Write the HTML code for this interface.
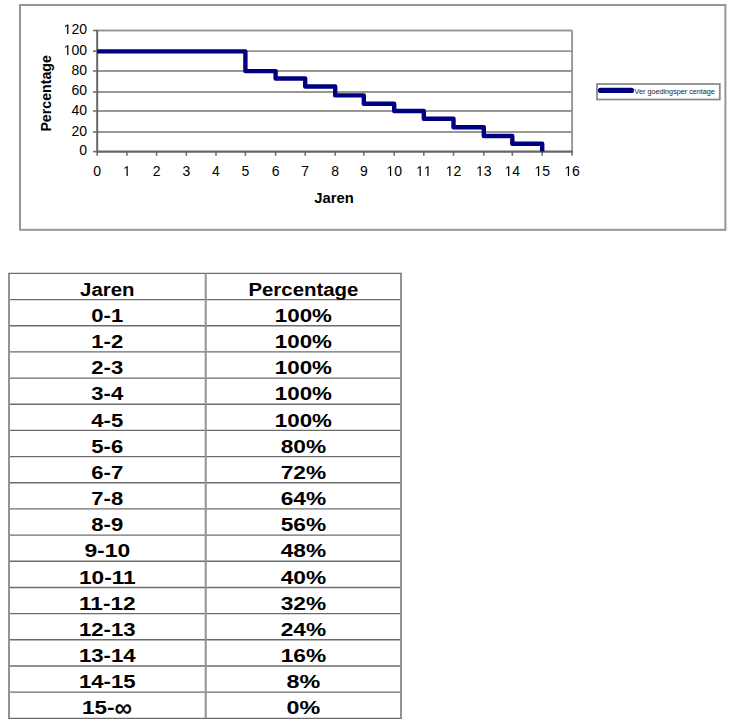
<!DOCTYPE html>
<html><head><meta charset="utf-8"><style>
html,body{margin:0;padding:0;background:#fff;width:733px;height:727px;overflow:hidden}
svg{display:block}
.t{font-family:"Liberation Sans",sans-serif;font-size:14px;fill:#000}
.b{font-family:"Liberation Sans",sans-serif;font-size:14px;font-weight:bold;fill:#000}
.lg{font-family:"Liberation Sans",sans-serif;font-size:6.5px;fill:#222}
.tt{font-family:"Liberation Sans",sans-serif;font-size:17.6px;font-weight:bold;fill:#000}
</style></head><body>
<svg width="733" height="727" viewBox="0 0 733 727">
<rect x="20" y="5" width="705.4" height="224.8" fill="none" stroke="#969696" stroke-width="2"/>
<line x1="97.2" y1="132.00" x2="572.10" y2="132.00" stroke="#979797" stroke-width="1.9"/>
<line x1="97.2" y1="111.00" x2="572.10" y2="111.00" stroke="#979797" stroke-width="1.9"/>
<line x1="97.2" y1="92.00" x2="572.10" y2="92.00" stroke="#979797" stroke-width="1.9"/>
<line x1="97.2" y1="71.00" x2="572.10" y2="71.00" stroke="#979797" stroke-width="1.9"/>
<line x1="97.2" y1="51.10" x2="572.10" y2="51.10" stroke="#979797" stroke-width="1.9"/>
<line x1="97.2" y1="30.50" x2="572.10" y2="30.50" stroke="#979797" stroke-width="1.9"/>
<line x1="572.10" y1="30.50" x2="572.10" y2="151.60" stroke="#979797" stroke-width="1.9"/>
<line x1="93" y1="151.60" x2="97.2" y2="151.60" stroke="#707070" stroke-width="1.6"/>
<line x1="93" y1="132.00" x2="97.2" y2="132.00" stroke="#707070" stroke-width="1.6"/>
<line x1="93" y1="111.00" x2="97.2" y2="111.00" stroke="#707070" stroke-width="1.6"/>
<line x1="93" y1="92.00" x2="97.2" y2="92.00" stroke="#707070" stroke-width="1.6"/>
<line x1="93" y1="71.00" x2="97.2" y2="71.00" stroke="#707070" stroke-width="1.6"/>
<line x1="93" y1="51.10" x2="97.2" y2="51.10" stroke="#707070" stroke-width="1.6"/>
<line x1="93" y1="30.50" x2="97.2" y2="30.50" stroke="#707070" stroke-width="1.6"/>
<line x1="97.20" y1="151.6" x2="97.20" y2="155.8" stroke="#707070" stroke-width="1.6"/>
<line x1="126.90" y1="151.6" x2="126.90" y2="155.8" stroke="#707070" stroke-width="1.6"/>
<line x1="156.60" y1="151.6" x2="156.60" y2="155.8" stroke="#707070" stroke-width="1.6"/>
<line x1="186.30" y1="151.6" x2="186.30" y2="155.8" stroke="#707070" stroke-width="1.6"/>
<line x1="216.00" y1="151.6" x2="216.00" y2="155.8" stroke="#707070" stroke-width="1.6"/>
<line x1="245.40" y1="151.6" x2="245.40" y2="155.8" stroke="#707070" stroke-width="1.6"/>
<line x1="275.60" y1="151.6" x2="275.60" y2="155.8" stroke="#707070" stroke-width="1.6"/>
<line x1="305.20" y1="151.6" x2="305.20" y2="155.8" stroke="#707070" stroke-width="1.6"/>
<line x1="335.20" y1="151.6" x2="335.20" y2="155.8" stroke="#707070" stroke-width="1.6"/>
<line x1="363.80" y1="151.6" x2="363.80" y2="155.8" stroke="#707070" stroke-width="1.6"/>
<line x1="394.20" y1="151.6" x2="394.20" y2="155.8" stroke="#707070" stroke-width="1.6"/>
<line x1="423.80" y1="151.6" x2="423.80" y2="155.8" stroke="#707070" stroke-width="1.6"/>
<line x1="453.50" y1="151.6" x2="453.50" y2="155.8" stroke="#707070" stroke-width="1.6"/>
<line x1="483.80" y1="151.6" x2="483.80" y2="155.8" stroke="#707070" stroke-width="1.6"/>
<line x1="512.30" y1="151.6" x2="512.30" y2="155.8" stroke="#707070" stroke-width="1.6"/>
<line x1="542.20" y1="151.6" x2="542.20" y2="155.8" stroke="#707070" stroke-width="1.6"/>
<line x1="572.10" y1="151.6" x2="572.10" y2="155.8" stroke="#707070" stroke-width="1.6"/>
<line x1="97.2" y1="29.90" x2="97.2" y2="152.20" stroke="#666" stroke-width="2"/>
<line x1="96.6" y1="151.60" x2="572.70" y2="151.60" stroke="#666" stroke-width="2.1"/>
<path d="M97.20,51.40 L245.40,51.40 L245.40,71.10 L275.60,71.10 L275.60,78.50 L305.20,78.50 L305.20,86.50 L335.20,86.50 L335.20,95.40 L363.80,95.40 L363.80,103.80 L394.20,103.80 L394.20,111.00 L423.80,111.00 L423.80,118.80 L453.50,118.80 L453.50,127.30 L483.80,127.30 L483.80,136.00 L512.30,136.00 L512.30,143.80 L542.20,143.80 L542.20,151.60" fill="none" stroke="#000080" stroke-width="4.4" stroke-linejoin="round"/>
<text x="79.21" y="155.20" class="t">0</text>
<text x="71.43" y="135.95" class="t">2</text>
<text x="79.21" y="135.95" class="t">0</text>
<text x="71.43" y="114.90" class="t">4</text>
<text x="79.21" y="114.90" class="t">0</text>
<text x="71.43" y="95.30" class="t">6</text>
<text x="79.21" y="95.30" class="t">0</text>
<text x="71.43" y="74.90" class="t">8</text>
<text x="79.21" y="74.90" class="t">0</text>
<path d="M515,0L515,1237L197,1010L197,1180L530,1409L696,1409L696,0Z" transform="translate(63.64,55.00) scale(0.006836,-0.006836)" fill="#000"/>
<text x="71.43" y="55.00" class="t">0</text>
<text x="79.21" y="55.00" class="t">0</text>
<path d="M515,0L515,1237L197,1010L197,1180L530,1409L696,1409L696,0Z" transform="translate(63.64,34.10) scale(0.006836,-0.006836)" fill="#000"/>
<text x="71.43" y="34.10" class="t">2</text>
<text x="79.21" y="34.10" class="t">0</text>
<text x="93.31" y="176.00" class="t">0</text>
<path d="M515,0L515,1237L197,1010L197,1180L530,1409L696,1409L696,0Z" transform="translate(123.01,176.00) scale(0.006836,-0.006836)" fill="#000"/>
<text x="152.71" y="176.00" class="t">2</text>
<text x="182.41" y="176.00" class="t">3</text>
<text x="212.11" y="176.00" class="t">4</text>
<text x="241.51" y="176.00" class="t">5</text>
<text x="271.71" y="176.00" class="t">6</text>
<text x="301.31" y="176.00" class="t">7</text>
<text x="331.31" y="176.00" class="t">8</text>
<text x="359.91" y="176.00" class="t">9</text>
<path d="M515,0L515,1237L197,1010L197,1180L530,1409L696,1409L696,0Z" transform="translate(386.41,176.00) scale(0.006836,-0.006836)" fill="#000"/>
<text x="394.20" y="176.00" class="t">0</text>
<path d="M515,0L515,1237L197,1010L197,1180L530,1409L696,1409L696,0Z" transform="translate(416.01,176.00) scale(0.006836,-0.006836)" fill="#000"/>
<path d="M515,0L515,1237L197,1010L197,1180L530,1409L696,1409L696,0Z" transform="translate(423.80,176.00) scale(0.006836,-0.006836)" fill="#000"/>
<path d="M515,0L515,1237L197,1010L197,1180L530,1409L696,1409L696,0Z" transform="translate(445.71,176.00) scale(0.006836,-0.006836)" fill="#000"/>
<text x="453.50" y="176.00" class="t">2</text>
<path d="M515,0L515,1237L197,1010L197,1180L530,1409L696,1409L696,0Z" transform="translate(476.01,176.00) scale(0.006836,-0.006836)" fill="#000"/>
<text x="483.80" y="176.00" class="t">3</text>
<path d="M515,0L515,1237L197,1010L197,1180L530,1409L696,1409L696,0Z" transform="translate(504.51,176.00) scale(0.006836,-0.006836)" fill="#000"/>
<text x="512.30" y="176.00" class="t">4</text>
<path d="M515,0L515,1237L197,1010L197,1180L530,1409L696,1409L696,0Z" transform="translate(534.41,176.00) scale(0.006836,-0.006836)" fill="#000"/>
<text x="542.20" y="176.00" class="t">5</text>
<path d="M515,0L515,1237L197,1010L197,1180L530,1409L696,1409L696,0Z" transform="translate(564.31,176.00) scale(0.006836,-0.006836)" fill="#000"/>
<text x="572.10" y="176.00" class="t">6</text>
<text x="0" y="0" class="b" transform="translate(51,131.6) rotate(-90)" textLength="76.5" lengthAdjust="spacingAndGlyphs">Percentage</text>
<text x="334" y="203.2" text-anchor="middle" class="b" textLength="39.5" lengthAdjust="spacingAndGlyphs">Jaren</text>
<rect x="597" y="84" width="122.8" height="15.5" fill="none" stroke="#8c8c8c" stroke-width="1.8"/>
<line x1="600.6" y1="90.4" x2="631.4" y2="90.4" stroke="#000080" stroke-width="5.4" stroke-linecap="round"/>
<text x="634.6" y="94.2" class="lg" textLength="80.3" lengthAdjust="spacingAndGlyphs">Ver goedingsper centage</text>
<line x1="8.0" y1="273.40" x2="402.0" y2="273.40" stroke="#6c6c6c" stroke-width="1.35"/>
<line x1="8.0" y1="299.57" x2="402.0" y2="299.57" stroke="#6c6c6c" stroke-width="1.35"/>
<line x1="8.0" y1="325.74" x2="402.0" y2="325.74" stroke="#6c6c6c" stroke-width="1.35"/>
<line x1="8.0" y1="351.91" x2="402.0" y2="351.91" stroke="#6c6c6c" stroke-width="1.35"/>
<line x1="8.0" y1="378.08" x2="402.0" y2="378.08" stroke="#6c6c6c" stroke-width="1.35"/>
<line x1="8.0" y1="404.25" x2="402.0" y2="404.25" stroke="#6c6c6c" stroke-width="1.35"/>
<line x1="8.0" y1="430.42" x2="402.0" y2="430.42" stroke="#6c6c6c" stroke-width="1.35"/>
<line x1="8.0" y1="456.59" x2="402.0" y2="456.59" stroke="#6c6c6c" stroke-width="1.35"/>
<line x1="8.0" y1="482.76" x2="402.0" y2="482.76" stroke="#6c6c6c" stroke-width="1.35"/>
<line x1="8.0" y1="508.94" x2="402.0" y2="508.94" stroke="#6c6c6c" stroke-width="1.35"/>
<line x1="8.0" y1="535.11" x2="402.0" y2="535.11" stroke="#6c6c6c" stroke-width="1.35"/>
<line x1="8.0" y1="561.28" x2="402.0" y2="561.28" stroke="#6c6c6c" stroke-width="1.35"/>
<line x1="8.0" y1="587.45" x2="402.0" y2="587.45" stroke="#6c6c6c" stroke-width="1.35"/>
<line x1="8.0" y1="613.62" x2="402.0" y2="613.62" stroke="#6c6c6c" stroke-width="1.35"/>
<line x1="8.0" y1="639.79" x2="402.0" y2="639.79" stroke="#6c6c6c" stroke-width="1.35"/>
<line x1="8.0" y1="665.96" x2="402.0" y2="665.96" stroke="#6c6c6c" stroke-width="1.35"/>
<line x1="8.0" y1="692.13" x2="402.0" y2="692.13" stroke="#6c6c6c" stroke-width="1.35"/>
<line x1="8.0" y1="718.30" x2="402.0" y2="718.30" stroke="#6c6c6c" stroke-width="1.35"/>
<line x1="9.0" y1="273.40" x2="9.0" y2="718.30" stroke="#939393" stroke-width="2"/>
<line x1="205.7" y1="273.40" x2="205.7" y2="718.30" stroke="#939393" stroke-width="2"/>
<line x1="401.0" y1="273.40" x2="401.0" y2="718.30" stroke="#939393" stroke-width="2"/>
<text x="107.3" y="295.70" text-anchor="middle" class="tt" textLength="54.5" lengthAdjust="spacingAndGlyphs">Jaren</text>
<text x="303.4" y="295.70" text-anchor="middle" class="tt" textLength="110.0" lengthAdjust="spacingAndGlyphs">Percentage</text>
<text x="107.3" y="321.87" text-anchor="middle" class="tt" textLength="31.9" lengthAdjust="spacingAndGlyphs">0-1</text>
<text x="303.4" y="321.87" text-anchor="middle" class="tt" textLength="57.1" lengthAdjust="spacingAndGlyphs">100%</text>
<text x="107.3" y="348.04" text-anchor="middle" class="tt" textLength="31.9" lengthAdjust="spacingAndGlyphs">1-2</text>
<text x="303.4" y="348.04" text-anchor="middle" class="tt" textLength="57.1" lengthAdjust="spacingAndGlyphs">100%</text>
<text x="107.3" y="374.21" text-anchor="middle" class="tt" textLength="31.9" lengthAdjust="spacingAndGlyphs">2-3</text>
<text x="303.4" y="374.21" text-anchor="middle" class="tt" textLength="57.1" lengthAdjust="spacingAndGlyphs">100%</text>
<text x="107.3" y="400.38" text-anchor="middle" class="tt" textLength="31.9" lengthAdjust="spacingAndGlyphs">3-4</text>
<text x="303.4" y="400.38" text-anchor="middle" class="tt" textLength="57.1" lengthAdjust="spacingAndGlyphs">100%</text>
<text x="107.3" y="426.55" text-anchor="middle" class="tt" textLength="31.9" lengthAdjust="spacingAndGlyphs">4-5</text>
<text x="303.4" y="426.55" text-anchor="middle" class="tt" textLength="57.1" lengthAdjust="spacingAndGlyphs">100%</text>
<text x="107.3" y="452.72" text-anchor="middle" class="tt" textLength="31.9" lengthAdjust="spacingAndGlyphs">5-6</text>
<text x="303.4" y="452.72" text-anchor="middle" class="tt" textLength="45.4" lengthAdjust="spacingAndGlyphs">80%</text>
<text x="107.3" y="478.89" text-anchor="middle" class="tt" textLength="31.9" lengthAdjust="spacingAndGlyphs">6-7</text>
<text x="303.4" y="478.89" text-anchor="middle" class="tt" textLength="45.4" lengthAdjust="spacingAndGlyphs">72%</text>
<text x="107.3" y="505.06" text-anchor="middle" class="tt" textLength="31.9" lengthAdjust="spacingAndGlyphs">7-8</text>
<text x="303.4" y="505.06" text-anchor="middle" class="tt" textLength="45.4" lengthAdjust="spacingAndGlyphs">64%</text>
<text x="107.3" y="531.24" text-anchor="middle" class="tt" textLength="31.9" lengthAdjust="spacingAndGlyphs">8-9</text>
<text x="303.4" y="531.24" text-anchor="middle" class="tt" textLength="45.4" lengthAdjust="spacingAndGlyphs">56%</text>
<text x="107.3" y="557.41" text-anchor="middle" class="tt" textLength="45.8" lengthAdjust="spacingAndGlyphs">9-10</text>
<text x="303.4" y="557.41" text-anchor="middle" class="tt" textLength="45.4" lengthAdjust="spacingAndGlyphs">48%</text>
<text x="107.3" y="583.58" text-anchor="middle" class="tt" textLength="56.7" lengthAdjust="spacingAndGlyphs">10-11</text>
<text x="303.4" y="583.58" text-anchor="middle" class="tt" textLength="45.4" lengthAdjust="spacingAndGlyphs">40%</text>
<text x="107.3" y="609.75" text-anchor="middle" class="tt" textLength="56.7" lengthAdjust="spacingAndGlyphs">11-12</text>
<text x="303.4" y="609.75" text-anchor="middle" class="tt" textLength="45.4" lengthAdjust="spacingAndGlyphs">32%</text>
<text x="107.3" y="635.92" text-anchor="middle" class="tt" textLength="56.7" lengthAdjust="spacingAndGlyphs">12-13</text>
<text x="303.4" y="635.92" text-anchor="middle" class="tt" textLength="45.4" lengthAdjust="spacingAndGlyphs">24%</text>
<text x="107.3" y="662.09" text-anchor="middle" class="tt" textLength="56.7" lengthAdjust="spacingAndGlyphs">13-14</text>
<text x="303.4" y="662.09" text-anchor="middle" class="tt" textLength="45.4" lengthAdjust="spacingAndGlyphs">16%</text>
<text x="107.3" y="688.26" text-anchor="middle" class="tt" textLength="56.7" lengthAdjust="spacingAndGlyphs">14-15</text>
<text x="303.4" y="688.26" text-anchor="middle" class="tt" textLength="33.7" lengthAdjust="spacingAndGlyphs">8%</text>
<text x="82.0" y="714.43" class="tt" textLength="32.5" lengthAdjust="spacingAndGlyphs">15-</text>
<text x="114.8" y="716.13" class="tt" style="font-size:24px;font-weight:normal;stroke:#000;stroke-width:0.5px">∞</text>
<text x="303.4" y="714.43" text-anchor="middle" class="tt" textLength="33.7" lengthAdjust="spacingAndGlyphs">0%</text>
</svg>
</body></html>
